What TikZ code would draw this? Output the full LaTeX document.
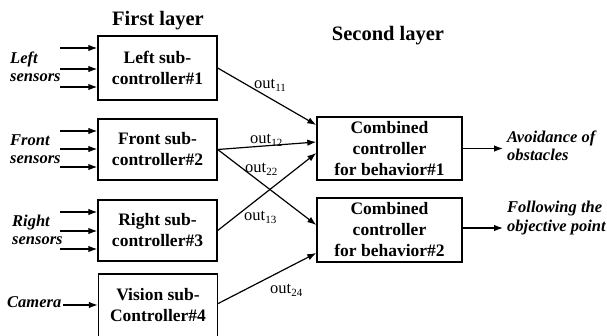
\documentclass[tikz,border=0pt]{standalone}
\usepackage{fontspec}
\setmainfont{Liberation Serif}
\usetikzlibrary{arrows.meta,calc}
\newcommand\outsub[1]{out\raisebox{-3.5pt}{\fontsize{11}{11}\selectfont #1}}
\begin{document}
\begin{tikzpicture}[x=1pt,y=-1pt,
  box/.style={draw,line width=1.4pt,inner sep=0pt,align=center,font=\bfseries\fontsize{17.5}{21}\selectfont},
  lbl/.style={align=left,inner sep=0pt,anchor=west,font=\bfseries\itshape\fontsize{16.5}{18.5}\selectfont},
  outl/.style={inner sep=0pt,anchor=base west,font=\fontsize{16.5}{16.5}\selectfont},
  ttl/.style={inner sep=0pt,anchor=base,font=\bfseries\fontsize{20.5}{24}\selectfont},
  arr/.style={line width=1.2pt,-{Latex[length=9pt,width=6.5pt]}}]
\useasboundingbox (0,0) rectangle (607,335);
\clip (0,0) rectangle (607,335);
% titles
\node[ttl] (t1) at (158,25) {First layer};
\node[ttl] (t2) at (388,40) {Second layer};
% first layer boxes
\node[box,minimum width=119,minimum height=64] (b1) at (157.5,68) {Left sub-\\controller\#1};
\node[box,minimum width=119,minimum height=61] (b2) at (157.5,149.5) {Front sub-\\controller\#2};
\node[box,minimum width=119,minimum height=61] (b3) at (157.5,230.5) {Right sub-\\controller\#3};
\node[box,minimum width=119,minimum height=63] (b4) at (158,305.5) {Vision sub-\\Controller\#4};
% second layer boxes
\node[box,minimum width=145,minimum height=63] (c1) at (389.5,148.5) {Combined\\controller\\for behavior\#1};
\node[box,minimum width=145,minimum height=64] (c2) at (389.5,230) {Combined\\controller\\for behavior\#2};
% input labels
\node[lbl] (ls) at (10,67) {Left\\sensors};
\node[lbl] (fs) at (10,149) {Front\\sensors};
\node[lbl] (rs) at (12,230) {Right\\sensors};
\node[lbl] (cam) at (7,302) {Camera};
% output labels
\node[lbl] (oa) at (507,146) {Avoidance of\\obstacles};
\node[lbl] (of) at (507,218) {Following the\\objective point};
% input arrows
\foreach \y in {48,69,87,131,149,167,212,231,249} {
  \coordinate (in\y) at (60,\y);
  \draw[arr] (in\y) -- (in\y -| b1.west);
}
\coordinate (ci) at (63,305);
\draw[arr] (ci) -- (ci -| b4.west);
% connectors between layers
\draw[arr] (b1.east) -- ([yshift=23.5pt]c1.west);
\draw[arr] (b2.east) -- ([yshift=6.5pt]c1.west);
\draw[arr] (b2.east) -- ([yshift=5pt]c2.west);
\draw[arr] (b3.east) -- ([yshift=-4.5pt]c1.west);
\draw[arr] ([yshift=2pt]b4.east) -- ([yshift=-23pt]c2.west);
% connector labels
\node[outl] (l11) at (254,88) {\outsub{11}};
\node[outl] (l12) at (250,143) {\outsub{12}};
\node[outl] (l22) at (245,172) {\outsub{22}};
\node[outl] (l13) at (244,220) {\outsub{13}};
\node[outl] (l24) at (270,293) {\outsub{24}};
% outputs
\coordinate (o1) at (503,148.5);
\coordinate (o2) at (503,228);
\draw[arr] (c1.east) -- (o1);
\draw[arr] ([yshift=2pt]c2.east) -- (o2);
\end{tikzpicture}
\end{document}
